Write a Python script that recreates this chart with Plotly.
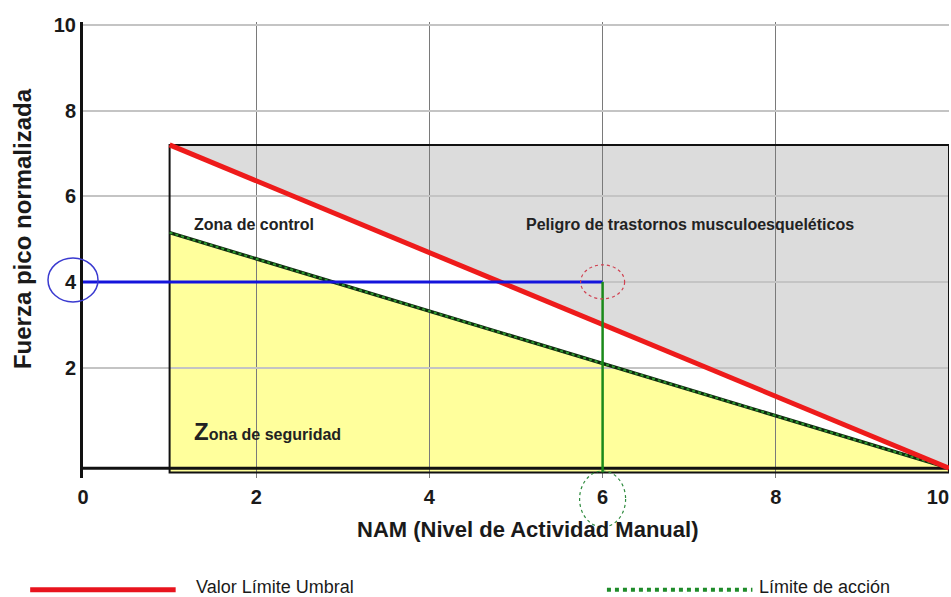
import plotly.graph_objects as go

# ---- data ----
nam_ticks = [0, 2, 4, 6, 8, 10]
fuerza_ticks = [2, 4, 6, 8, 10]

vlu_x = [1, 10]          # Valor Límite Umbral
vlu_y = [7.2, -0.35]
la_x = [1, 10]           # Límite de acción
la_y = [5.15, -0.35]

zone_x = [1, 10]         # evaluated zone box
zone_top = 7.2
baseline_y = -0.35
box_bottom = -0.45

ejemplo_nam = 6          # example task
ejemplo_fuerza = 4

x_range = [0, 10]
y_range = [-0.58, 10.07]

fig = go.Figure()

def path(pts):
    return "M " + " L ".join(f"{x},{y}" for x, y in pts) + " Z"

def ypaper(v):
    return (v - y_range[0]) / (y_range[1] - y_range[0])

def xpaper(v):
    return (v - x_range[0]) / (x_range[1] - x_range[0])

shapes = []
# grey danger zone (whole box), drawn under gridlines
shapes.append(dict(type="path", layer="below", xref="x", yref="y",
                   path=path([(zone_x[0], box_bottom), (zone_x[0], zone_top),
                              (zone_x[1], zone_top), (zone_x[1], box_bottom)]),
                   fillcolor="#dcdcdc", line=dict(width=0)))
# white control zone (between action limit and TLV)
shapes.append(dict(type="path", layer="below", xref="x", yref="y",
                   path=path([(la_x[0], la_y[0]), (vlu_x[0], vlu_y[0]),
                              (vlu_x[1], vlu_y[1]), (la_x[1], box_bottom)]),
                   fillcolor="#ffffff", line=dict(width=0)))
# yellow safety zone
shapes.append(dict(type="path", layer="below", xref="x", yref="y",
                   path=path([(la_x[0], box_bottom), (la_x[0], la_y[0]),
                              (la_x[1], la_y[1]), (la_x[1], box_bottom)]),
                   fillcolor="#ffff9c", line=dict(width=0)))
# box border
shapes.append(dict(type="rect", layer="between", xref="x", yref="y",
                   x0=zone_x[0], x1=zone_x[1], y0=box_bottom, y1=zone_top,
                   line=dict(color="#111111", width=2), fillcolor="rgba(0,0,0,0)"))
# baseline
shapes.append(dict(type="line", layer="between", xref="x", yref="y",
                   x0=x_range[0], x1=x_range[1], y0=baseline_y, y1=baseline_y,
                   line=dict(color="#111111", width=3)))

# circles
shapes.append(dict(type="circle", layer="above", xref="paper", yref="paper",
                   xsizemode="pixel", ysizemode="pixel",
                   xanchor=xpaper(0), yanchor=ypaper(ejemplo_fuerza),
                   x0=-35, x1=15, y0=-20, y1=24,
                   line=dict(color="#3a3ad0", width=1.5)))
shapes.append(dict(type="circle", layer="above", xref="x", yref="y",
                   xsizemode="pixel", ysizemode="pixel",
                   xanchor=ejemplo_nam, yanchor=ejemplo_fuerza,
                   x0=-22, x1=22, y0=-17, y1=17,
                   line=dict(color="#d04050", width=1.2, dash="dot")))
shapes.append(dict(type="circle", layer="above", xref="paper", yref="paper",
                   xsizemode="pixel", ysizemode="pixel",
                   xanchor=xpaper(ejemplo_nam), yanchor=0,
                   x0=-23, x1=23, y0=-49, y1=7,
                   line=dict(color="#2e8b3e", width=1.2, dash="dot")))

# legend samples
leg_y = -0.245
shapes.append(dict(type="line", xref="paper", yref="paper",
                   x0=-0.061, x1=0.107, y0=leg_y, y1=leg_y,
                   line=dict(color="#e8141e", width=5)))
shapes.append(dict(type="line", xref="paper", yref="paper",
                   x0=0.605, x1=0.773, y0=leg_y, y1=leg_y,
                   line=dict(color="#1f8c2a", width=4, dash="dot")))

# lines
fig.add_trace(go.Scatter(x=la_x, y=la_y, mode="lines",
                         line=dict(color="#0e2a0e", width=3.5), hoverinfo="skip",
                         showlegend=False))
fig.add_trace(go.Scatter(x=la_x, y=la_y, mode="lines",
                         line=dict(color="#2f9a2f", width=2, dash="dot"),
                         name="Límite de acción", showlegend=False))
fig.add_trace(go.Scatter(x=vlu_x, y=vlu_y, mode="lines",
                         line=dict(color="#ee1b1b", width=5),
                         name="Valor Límite Umbral", showlegend=False))
fig.add_trace(go.Scatter(x=[x_range[0], ejemplo_nam], y=[ejemplo_fuerza, ejemplo_fuerza],
                         mode="lines", line=dict(color="#1414dc", width=3),
                         showlegend=False))
fig.add_trace(go.Scatter(x=[ejemplo_nam, ejemplo_nam], y=[ejemplo_fuerza, box_bottom],
                         mode="lines", line=dict(color="#1a8a1a", width=2.5),
                         showlegend=False))

font_b = "Liberation Sans, Arial, sans-serif"
annotations = [
    dict(x=1.26, y=5.33, xref="x", yref="y", xanchor="left", yanchor="middle",
         text="<b>Zona de control</b>", showarrow=False,
         font=dict(family=font_b, size=16, color="#222222")),
    dict(x=5.09, y=5.33, xref="x", yref="y", xanchor="left", yanchor="middle",
         text="<b>Peligro de trastornos musculoesqueléticos</b>", showarrow=False,
         font=dict(family=font_b, size=16, color="#222222")),
    dict(x=1.26, y=0.5, xref="x", yref="y", xanchor="left", yanchor="middle",
         text="<b><span style='font-size:24px'>Z</span>ona de seguridad</b>", showarrow=False,
         font=dict(family=font_b, size=16, color="#222222")),
    dict(x=0.513, y=-0.114, xref="paper", yref="paper", xanchor="center", yanchor="middle",
         text="<b>NAM (Nivel de Actividad Manual)</b>", showarrow=False,
         font=dict(family=font_b, size=22, color="#1a1a1a")),
    dict(x=-0.0705, y=0.548, xref="paper", yref="paper", xanchor="center", yanchor="middle",
         text="<b>Fuerza pico normalizada</b>", textangle=-90, showarrow=False,
         font=dict(family=font_b, size=24, color="#1a1a1a")),
    dict(x=0.128, y=leg_y + 0.006, xref="paper", yref="paper", xanchor="left", yanchor="middle",
         text="Valor Límite Umbral", showarrow=False,
         font=dict(family=font_b, size=18, color="#1a1a1a")),
    dict(x=0.778, y=leg_y + 0.006, xref="paper", yref="paper", xanchor="left", yanchor="middle",
         text="Límite de acción", showarrow=False,
         font=dict(family=font_b, size=18, color="#1a1a1a")),
]

xtick_text = [f"<b>{v}</b>" + ("&nbsp;&nbsp;&nbsp;&nbsp;" if v == nam_ticks[-1] else "")
              for v in nam_ticks]

fig.update_layout(
    width=951, height=597,
    margin=dict(l=83, r=2, t=22, b=119),
    paper_bgcolor="white", plot_bgcolor="white",
    shapes=shapes, annotations=annotations,
    showlegend=False,
    xaxis=dict(range=x_range, tickvals=nam_ticks, ticktext=xtick_text,
               showgrid=True, gridcolor="#7a7a7a", gridwidth=1,
               zeroline=False, showline=False, ticks="", automargin=False,
               ticklabeloverflow="allow", ticklabelstandoff=5,
               tickfont=dict(family=font_b, size=20, color="#1a1a1a")),
    yaxis=dict(range=y_range, tickvals=fuerza_ticks, ticktext=[f"<b>{v}</b>" for v in fuerza_ticks],
               showgrid=True, gridcolor="#c4c4c4", gridwidth=2, automargin=False,
               zeroline=False, showline=True, linecolor="#111111", linewidth=3,
               ticks="", tickfont=dict(family=font_b, size=20, color="#1a1a1a")),
)

fig.write_html("out.html", config={"displayModeBar": False},
               post_script="document.body.style.margin='0';document.body.style.overflow='hidden';")
